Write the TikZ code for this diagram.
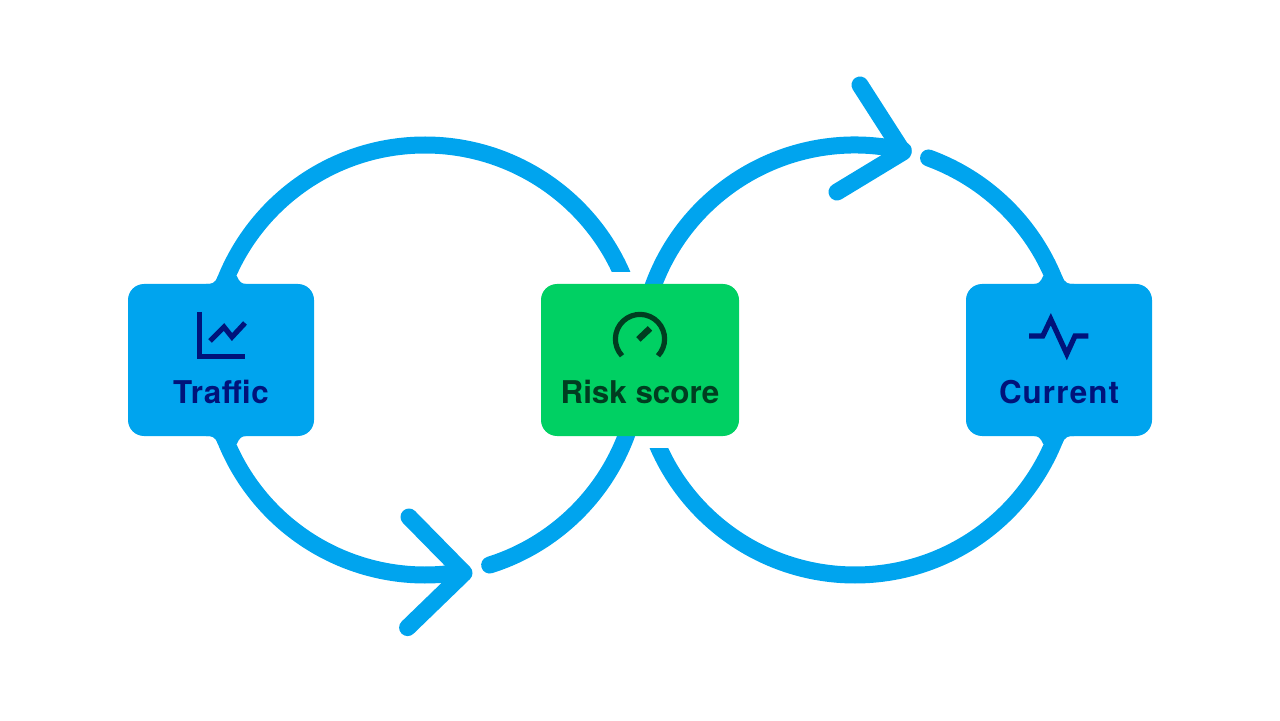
\documentclass[tikz,border=0pt]{standalone}
\usepackage{fontspec}
\setmainfont{TeX Gyre Heros}
\definecolor{loopblue}{HTML}{00A4EE}
\definecolor{riskgreen}{HTML}{00D063}
\definecolor{navyink}{HTML}{00137A}
\definecolor{greenink}{HTML}{003D20}
\tikzset{
    loopline/.style={draw=loopblue, line width=0.425cm, line cap=round, line join=round},
    tile/.style={rounded corners=0.4cm, minimum height=3.8cm, inner sep=0pt},
    tilename/.style={font=\bfseries\fontsize{22.3}{26}\selectfont, anchor=base, inner sep=0pt},
    glyph/.style={line width=0.13cm, line cap=butt, miter limit=10},
    pics/flare/.style={code={
        \fill[loopblue] (-0.45,-0.05) -- (-0.45,0) .. controls (-0.3,0) and (-0.22,0.02) .. (-0.15,0.2)
            -- (0.32,0.2) .. controls (0.38,0.05) and (0.45,0) .. (0.55,0) -- (0.55,-0.05) -- cycle;
    }}
}
\begin{document}
\begin{tikzpicture}
    \useasboundingbox (0,0) rectangle (32,18);
    \coordinate (loopl) at (10.625,9);
    \coordinate (loopr) at (21.375,9);

    % Left loop
    \begin{scope}
        \clip (0,0) -- (10.6,0) -- (10.6,11.2) -- (16,11.2) -- (16,18) -- (0,18) -- cycle;
        \draw[loopline] (loopl)+(180:5.375) arc[start angle=180, end angle=20, radius=5.375];
    \end{scope}
    \coordinate (tipa) at (11.6,3.675);
    \coordinate (tipaup) at (10.225,5.075);
    \coordinate (tipadown) at (10.19,2.31);
    \draw[loopline] (loopl)+(180:5.375) arc[start angle=180, end angle=280, radius=5.375];
    \draw[loopline] (tipaup) -- (tipa) -- (tipadown);
    \draw[loopline] (loopl)+(-72.5:5.375) arc[start angle=-72.5, end angle=-15, radius=5.375];

    % Right loop
    \begin{scope}
        \clip (32,18) -- (21.4,18) -- (21.4,6.8) -- (16,6.8) -- (16,0) -- (32,0) -- cycle;
        \draw[loopline] (loopr)+(0:5.375) arc[start angle=0, end angle=-160, radius=5.375];
    \end{scope}
    \coordinate (tipb) at (22.575,14.2);
    \coordinate (tipbup) at (21.5,15.875);
    \coordinate (tipbdown) at (20.925,13.2);
    \draw[loopline] (loopr)+(165:5.375) arc[start angle=165, end angle=77, radius=5.375];
    \draw[loopline] (tipbup) -- (tipb) -- (tipbdown);
    \draw[loopline] (loopr)+(70:5.375) arc[start angle=70, end angle=0, radius=5.375];

    % Tiles
    \pic at (5.6,10.9) {flare};
    \pic[yscale=-1] at (5.6,7.1) {flare};
    \pic[xscale=-1] at (26.4,10.9) {flare};
    \pic[xscale=-1, yscale=-1] at (26.4,7.1) {flare};
    \node[tile, fill=loopblue, minimum width=4.65cm] (traffic) at (5.525,9) {};
    \node[tile, fill=riskgreen, minimum width=4.95cm] (risk) at (16,9) {};
    \node[tile, fill=loopblue, minimum width=4.65cm] (current) at (26.475,9) {};

    \node[tilename, text=navyink] (trafficname) at (5.525,7.9) {\addfontfeature{LetterSpace=2}Traffic};
    \node[tilename, text=greenink] (riskname) at (16,7.9) {Risk score};
    \node[tilename, text=navyink] (currentname) at (26.475,7.9) {\addfontfeature{LetterSpace=3.5}Current};

    % Icons
    \draw[glyph, navyink] (4.99,10.2) -- (4.99,9.08) -- (6.125,9.08);
    \draw[glyph, navyink] (5.25,9.475) -- (5.6,9.825) -- (5.8,9.575) -- (6.125,9.925);
    \draw[glyph, greenink] (16,9.525)+(223:0.615) arc[start angle=223, end angle=-43, radius=0.615];
    \draw[greenink, line width=0.16cm] (15.96,9.515) -- (16.25,9.79);
    \draw[glyph, navyink] (25.73,9.6) -- (26.07,9.6) -- (26.27,10.02) -- (26.67,9.15) -- (26.875,9.6) -- (27.21,9.6);
\end{tikzpicture}
\end{document}
